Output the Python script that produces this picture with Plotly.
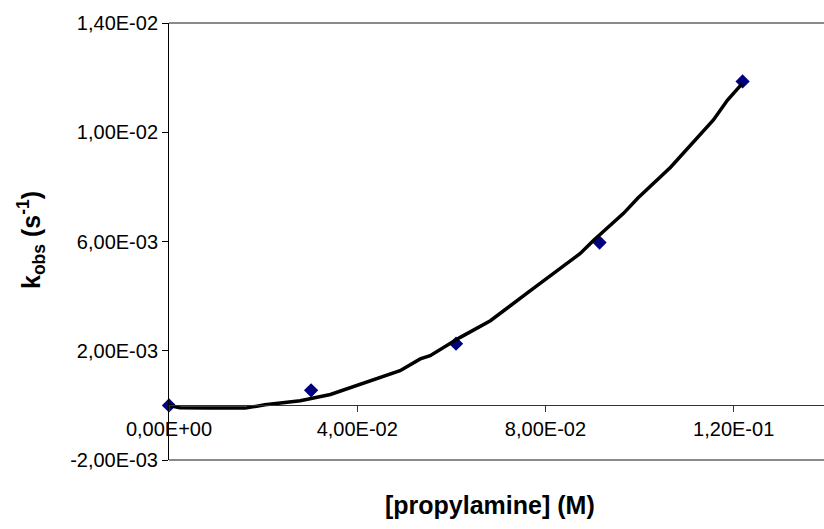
import plotly.graph_objects as go

# measured data points
conc = [0.0, 0.0302, 0.0610, 0.0915, 0.1219]
kobs = [0.0, 0.00055, 0.00226, 0.00596, 0.01186]

# fitted curve
fit_x = [0.0, 0.0023, 0.0080, 0.0162, 0.0204, 0.0279, 0.0343, 0.0406, 0.0491,
         0.0534, 0.0555, 0.0619, 0.0683, 0.0768, 0.0838, 0.0874, 0.0902, 0.0966,
         0.0996, 0.1066, 0.1157, 0.1187, 0.1219]
fit_y = [0.0, -0.00009, -0.0001, -0.0001, 0.00002, 0.00017, 0.0004, 0.00078, 0.00127,
         0.00170, 0.00182, 0.00249, 0.0031, 0.0042, 0.00512, 0.00556, 0.00604, 0.00703,
         0.00758, 0.00872, 0.01045, 0.01118, 0.01180]

x_tickvals = [0.0, 0.04, 0.08, 0.12]
x_ticktext = ["0,00E+00", "4,00E-02", "8,00E-02", "1,20E-01"]
y_tickvals = [-0.002, 0.002, 0.006, 0.010, 0.014]
y_ticktext = ["-2,00E-03", "2,00E-03", "6,00E-03", "1,00E-02", "1,40E-02"]

x_title = "<b>[propylamine] (M)</b>"
y_title = "<b>k<sub>obs</sub> (s<sup>-1</sup>)</b>"

FONT = "Liberation Sans, Arial, sans-serif"

fig = go.Figure()
fig.add_trace(go.Scatter(
    x=conc, y=kobs, mode="markers",
    marker=dict(symbol="diamond", size=11, color="#000080"),
    showlegend=False, cliponaxis=False))
fig.add_trace(go.Scatter(
    x=fit_x, y=fit_y, mode="lines",
    line=dict(color="black", width=3.5),
    showlegend=False, cliponaxis=False))

ymin, ymax = -0.002, 0.014
fig.update_layout(
    width=824, height=529,
    margin=dict(l=169, r=0, t=23, b=69),
    paper_bgcolor="white", plot_bgcolor="white",
    font=dict(family=FONT, size=20, color="black"),
    xaxis=dict(range=[0, 0.1392], tickvals=x_tickvals, ticktext=x_ticktext,
               showgrid=False, zeroline=False, showline=True, linecolor="#333333",
               linewidth=1, ticks="outside", ticklen=6, tickcolor="#333333",
               anchor="free", position=(0 - ymin) / (ymax - ymin),
               tickfont=dict(size=20)),
    yaxis=dict(range=[ymin, ymax], tickvals=y_tickvals, ticktext=y_ticktext,
               showgrid=False, zeroline=False, showline=True, linecolor="black",
               linewidth=1, ticks="outside", ticklen=6, tickcolor="black",
               tickfont=dict(size=20)),
    shapes=[
        dict(type="line", xref="paper", yref="paper", x0=0, x1=1, y0=1, y1=1,
             line=dict(color="#8a8a8a", width=2)),
        dict(type="line", xref="paper", yref="paper", x0=0, x1=1, y0=0, y1=0,
             line=dict(color="#8a8a8a", width=2)),
    ],
    annotations=[
        dict(text=x_title, xref="paper", yref="paper", x=(490 - 169) / 655,
             y=-(505 - 460) / 437, xanchor="center", yanchor="middle",
             showarrow=False, font=dict(size=25, family=FONT)),
        dict(text=y_title, xref="paper", yref="paper", x=-(169 - 31) / 655,
             y=(460 - 240) / 437, xanchor="center", yanchor="middle",
             textangle=-90, showarrow=False, font=dict(size=25, family=FONT)),
    ],
)

fig.write_html("out.html")
